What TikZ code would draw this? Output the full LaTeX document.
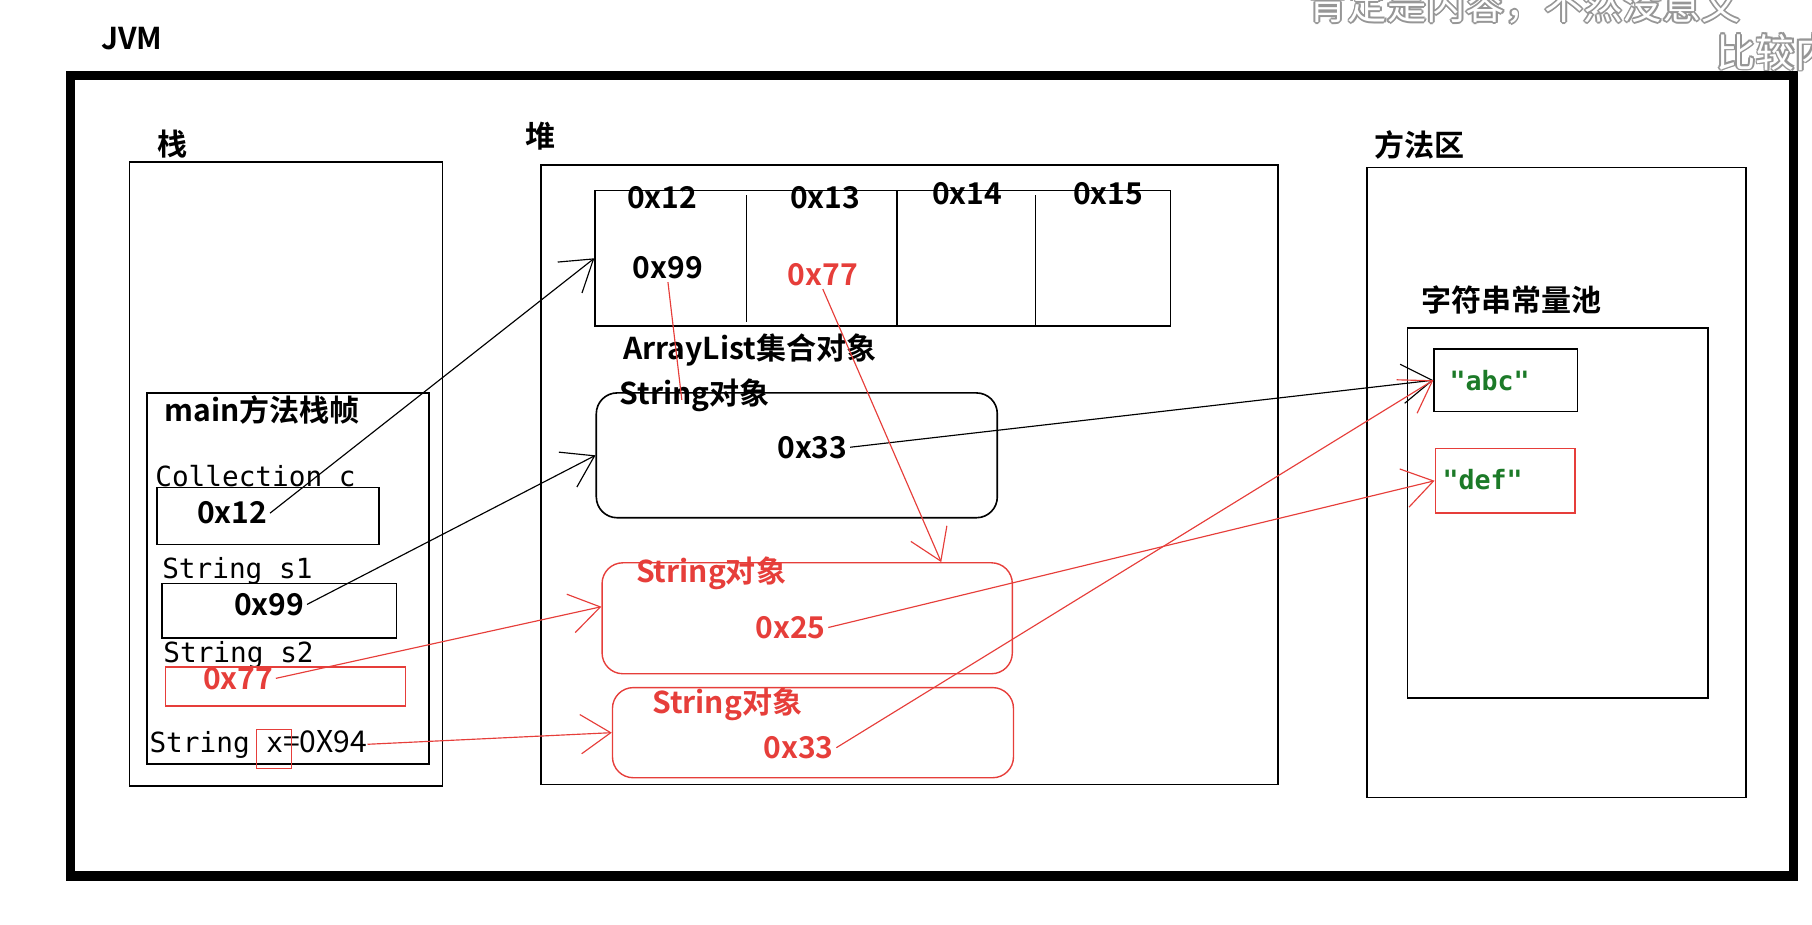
\documentclass[tikz,border=0pt]{standalone}
\usepackage{fontspec}
\setmainfont{Noto Sans CJK SC}[BoldFont={Noto Sans CJK SC Bold}]
\setmonofont{DejaVu Sans Mono}
\usepackage{tikz}
\usetikzlibrary{arrows.meta,calc,fit,positioning}
\definecolor{memred}{RGB}{230,62,58}
\definecolor{poolgreen}{RGB}{28,122,40}
\definecolor{subgray}{RGB}{150,150,150}

\begin{document}
\begin{tikzpicture}[x=0.5pt, y=-0.5pt, every node/.style={inner sep=1pt, font=\bfseries\fontsize{13}{15}\selectfont}]
	\tikzset{
		area/.style={draw, line width=0.7pt, inner sep=0pt},
		slot/.style={draw, line width=0.7pt, inner sep=0pt},
		redslot/.style={draw=memred, line width=0.6pt, inner sep=0pt},
		obj/.style={draw, line width=0.7pt, inner sep=0pt, rounded corners=9pt},
		redobj/.style={obj, draw=memred, line width=0.6pt},
		var/.style={anchor=base west, inner sep=0pt, font=\ttfamily\mdseries\fontsize{12}{14}\selectfont},
		addr/.style={font=\bfseries\fontsize{13}{15}\selectfont},
		lit/.style={text=poolgreen, font=\ttfamily\bfseries\fontsize{11.5}{13}\selectfont},
		subtitle/.style={anchor=base west, inner sep=0pt, font=\mdseries\fontsize{17}{20}\selectfont},
		ref/.style={-{Straight Barb[length=13pt,width=17pt]}, line width=0.5pt},
		redref/.style={ref, draw=memred}
	}

	\useasboundingbox (0,0) rectangle (1568,800);

	% JVM
	\node[anchor=base west] (jvm) at (85,43) {JVM};
	\node[draw, line width=4pt, inner sep=0pt, fit={(61,65) (1552,758)}] (jvmbox) {};

	% stack
	\node (stacklbl) at (149,125) {栈};
	\node[area, fit={(112,140) (383,680)}] (stack) {};
	\node[area, fit={(127,340) (371,661)}] (frame) {};
	\node[anchor=base west] (framelbl) at (140,365) {main方法栈帧};
	\node[var] (cdecl) at (134,421) {Collection c};
	\node[slot, fit={(136,422) (328,471)}] (cslot) {};
	\node[addr] (c12) at (201,444) {0x12};
	\node[var] (s1decl) at (140,501) {String s1};
	\node[slot, fit={(140,505) (343,552)}] (s1slot) {};
	\node[addr] (s199) at (233,523) {0x99};
	\node[var] (s2decl) at (141,573) {String s2};
	\node[redslot, fit={(143,577) (351,611)}] (s2slot) {};
	\node[addr, text=memred] (s277) at (206,587) {0x77};
	\node[var] (xdecl) at (129,651) {String x{\rmfamily\mdseries\fontsize{13}{15}\selectfont =0X94}};
	\node[redslot, fit={(222,631) (252,665)}] (xslot) {};

	% heap
	\node (heaplbl) at (468,118) {堆};
	\node[area, fit={(468,143) (1106,679)}] (heap) {};
	\node[slot, fit={(515,165) (1013,282)}] (list) {};
	\foreach \cx/\ty/\by in {646/169/279, 776/165/282, 896/169/282}
		\draw[line width=0.7pt] (\cx,\ty) -- (\cx,\by);
	\foreach \idx/\cx/\cy in {12/573/171, 13/714/171, 14/837/168, 15/959/168}
		\node[addr] (a\idx) at (\cx,\cy) {0x\idx};
	\node[addr] (a99) at (578,232) {0x99};
	\node[addr, text=memred] (a77) at (712,238) {0x77};
	\node[anchor=base west] (listlbl) at (537,311) {ArrayList集合对象};

	\node[obj, fit={(516,340) (863,448)}] (strobj) {};
	\node[anchor=base west] (strlbl) at (534,350) {String对象};
	\node[addr] (o33) at (703,387) {0x33};
	\coordinate (hit) at (590,346);

	\node[redobj, fit={(521,487) (876,583)}] (str25) {};
	\node[anchor=base west, text=memred] (str25lbl) at (548,504) {String对象};
	\node[addr, text=memred] (o25) at (684,543) {0x25};

	\node[redobj, fit={(530,595) (877,673)}] (str33) {};
	\node[anchor=base west, text=memred] (str33lbl) at (562,617) {String对象};
	\node[addr, text=memred] (r33) at (691,647) {0x33};

	% method area
	\node (methlbl) at (1228,125) {方法区};
	\node[area, fit={(1183,145) (1511,690)}] (method) {};
	\node (poollbl) at (1308,260) {字符串常量池};
	\node[area, fit={(1218,284) (1478,604)}] (pool) {};
	\node[slot, fit={(1241,302) (1365,356)}] (abcbox) {};
	\node[lit] (abc) at (1289,329) {"abc"};
	\node[redslot, fit={(1242,388) (1363,444)}] (defbox) {};
	\node[lit] (def) at (1283,415) {"def"};

	% references
	\draw[ref] (c12.east) -- (list.west);
	\draw[ref] (s199.east) -- (strobj.west);
	\draw[ref] (o33.east) -- (abcbox.west);
	\draw[memred, line width=0.5pt] (a99.south) -- (hit);
	\draw[redref] (a77.south) -- ([xshift=58pt]str25.north);
	\draw[redref] (s277.east) -- ([yshift=5pt]str25.west);
	\draw[redref] (o25.east) -- (defbox.west);
	\draw[redref] (r33.east) -- (abcbox.west);
	\draw[redref] (xdecl.east) -- (str33.west);

	% subtitle
	\foreach \dx/\dy [count=\k] in {1/0,-1/0,0/1,0/-1,0.7/0.7,-0.7/0.7,0.7/-0.7,-0.7/-0.7} {
		\node[subtitle, text=subgray] (subtop\k) at (1132+1.6*\dx,17+1.6*\dy) {肯定是内容，不然没意义};
		\node[subtitle, text=subgray] (subbot\k) at (1485+1.6*\dx,58+1.6*\dy) {比较内容};
	}
	\node[subtitle, text=white] (subtop) at (1132,17) {肯定是内容，不然没意义};
	\node[subtitle, text=white] (subbot) at (1485,58) {比较内容};
\end{tikzpicture}
\end{document}
